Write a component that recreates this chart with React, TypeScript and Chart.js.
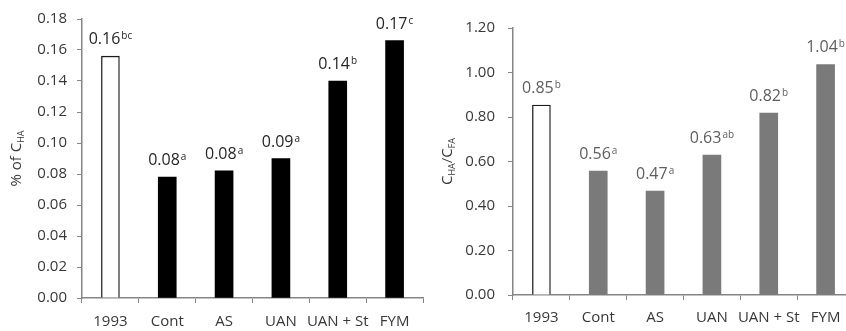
import React, { useEffect, useRef } from "react";
import { Chart, registerables } from "chart.js";

Chart.register(...registerables);

// Treatments shared by both panels
const categories = ["1993", "Cont", "AS", "UAN", "UAN + St", "FYM"];

// Panel A: humic acid share (% of C_HA) with significance letters
const haPercent = [0.156, 0.078, 0.082, 0.09, 0.14, 0.166];
const haLetters = ["bc", "a", "a", "a", "b", "c"];

// Panel B: C_HA / C_FA ratio with significance letters
const haFaRatio = [0.854, 0.557, 0.467, 0.629, 0.818, 1.036];
const ratioLetters = ["b", "a", "a", "ab", "b", "b"];

const FONT = "'Open Sans', Lato, sans-serif";
const AXIS = "#858585";
const TICK = "#383838";

type TitlePart = { text: string; sub?: boolean };

// Value labels with a superscript letter, centred over each bar
const valueLabels = {
  id: "valueLabels",
  afterDatasetsDraw(chart: any, _args: any, opts: any) {
    const ctx = chart.ctx as CanvasRenderingContext2D;
    const meta = chart.getDatasetMeta(0);
    const values = chart.data.datasets[0].data as number[];
    meta.data.forEach((bar: any, i: number) => {
      const main = values[i].toFixed(2);
      const sup = opts.letters[i] as string;
      ctx.save();
      ctx.font = `16px ${FONT}`;
      const w1 = ctx.measureText(main).width;
      ctx.font = `10px ${FONT}`;
      const w2 = ctx.measureText(sup).width;
      const left = bar.x - (w1 + w2 + 1) / 2;
      const base = bar.y - 12;
      ctx.fillStyle = opts.color;
      ctx.textAlign = "left";
      ctx.textBaseline = "alphabetic";
      ctx.font = `16px ${FONT}`;
      ctx.fillText(main, left, base);
      ctx.font = `10px ${FONT}`;
      ctx.fillText(sup, left + w1 + 1, base - 5);
      ctx.restore();
    });
  },
};

// Rotated y-axis title with subscripts
const axisTitle = {
  id: "axisTitle",
  afterDraw(chart: any, _args: any, opts: any) {
    const ctx = chart.ctx as CanvasRenderingContext2D;
    const parts = opts.parts as TitlePart[];
    const big = `15px ${FONT}`;
    const small = `9px ${FONT}`;
    ctx.save();
    let total = 0;
    const widths = parts.map((p) => {
      ctx.font = p.sub ? small : big;
      const w = ctx.measureText(p.text).width;
      total += w;
      return w;
    });
    const cy = (chart.chartArea.top + chart.chartArea.bottom) / 2;
    ctx.translate(opts.x, cy);
    ctx.rotate(-Math.PI / 2);
    ctx.fillStyle = opts.color;
    ctx.textAlign = "left";
    ctx.textBaseline = "middle";
    let x = -total / 2;
    parts.forEach((p, i) => {
      ctx.font = p.sub ? small : big;
      ctx.fillText(p.text, x, p.sub ? 4 : 0);
      x += widths[i];
    });
    ctx.restore();
  },
};

type PanelProps = {
  left: number;
  width: number;
  values: number[];
  letters: string[];
  barColor: string;
  labelColor: string;
  max: number;
  step: number;
  top: number;
  yAxisWidth: number;
  xAxisHeight: number;
  padRight: number;
  yTickPad: number;
  xTickPad: number;
  title: TitlePart[];
  titleX: number;
};

function BarPanel(p: PanelProps) {
  const ref = useRef<HTMLCanvasElement | null>(null);

  useEffect(() => {
    if (!ref.current) return;
    const fills = p.values.map((_, i) => (i === 0 ? "#ffffff" : p.barColor));
    const borders = p.values.map((_, i) => (i === 0 ? "#1a1a1a" : p.barColor));
    const chart = new Chart(ref.current, {
      type: "bar",
      data: {
        labels: categories,
        datasets: [
          {
            data: p.values,
            backgroundColor: fills,
            borderColor: borders,
            borderWidth: p.values.map((_, i) => (i === 0 ? 1.3 : 0)),
            barThickness: 18,
          },
        ],
      },
      plugins: [valueLabels, axisTitle],
      options: {
        animation: false,
        responsive: false,
        maintainAspectRatio: false,
        devicePixelRatio: 1,
        layout: { padding: { top: p.top, right: p.padRight, left: 0, bottom: 0 } },
        plugins: {
          legend: { display: false },
          tooltip: { enabled: false },
          valueLabels: { letters: p.letters, color: p.labelColor },
          axisTitle: { parts: p.title, x: p.titleX, color: TICK },
        } as any,
        scales: {
          x: {
            offset: true,
            grid: {
              display: true,
              offset: true,
              drawOnChartArea: false,
              drawTicks: true,
              tickLength: 5,
              color: AXIS,
            },
            border: { display: true, color: AXIS, width: 1.5 },
            ticks: {
              color: TICK,
              font: { family: FONT, size: 15 },
              padding: p.xTickPad,
              maxRotation: 0,
              autoSkip: false,
            },
            afterFit: (s: any) => {
              s.height = p.xAxisHeight;
            },
          },
          y: {
            min: 0,
            max: p.max,
            grid: {
              display: true,
              drawOnChartArea: false,
              drawTicks: true,
              tickLength: 5,
              color: AXIS,
            },
            border: { display: true, color: AXIS, width: 1.5 },
            ticks: {
              stepSize: p.step,
              color: TICK,
              font: { family: FONT, size: 15 },
              padding: p.yTickPad,
              callback: (v: any) => Number(v).toFixed(2),
            },
            afterFit: (s: any) => {
              s.width = p.yAxisWidth;
            },
          },
        },
      },
    });
    return () => chart.destroy();
  }, []);

  return (
    <canvas
      ref={ref}
      width={p.width}
      height={331}
      style={{ position: "absolute", left: p.left, top: 0, width: p.width, height: 331 }}
    />
  );
}

export default function App() {
  return (
    <div
      style={{
        position: "fixed",
        left: 0,
        top: 0,
        width: 846,
        height: 331,
        overflow: "hidden",
        background: "#ffffff",
      }}
    >
      <BarPanel
        left={0}
        width={425}
        values={haPercent}
        letters={haLetters}
        barColor="#000000"
        labelColor="#262626"
        max={0.18}
        step={0.02}
        top={18}
        yAxisWidth={82}
        xAxisHeight={33}
        padRight={2}
        yTickPad={10}
        xTickPad={10}
        title={[{ text: "% of C" }, { text: "HA", sub: true }]}
        titleX={17}
      />
      <BarPanel
        left={423}
        width={440}
        values={haFaRatio}
        letters={ratioLetters}
        barColor="#7a7a7a"
        labelColor="#5e5e5e"
        max={1.2}
        step={0.2}
        top={28}
        yAxisWidth={90}
        xAxisHeight={36}
        padRight={9}
        yTickPad={13}
        xTickPad={9}
        title={[
          { text: "C" },
          { text: "HA", sub: true },
          { text: "/C" },
          { text: "FA", sub: true },
        ]}
        titleX={25}
      />
    </div>
  );
}
